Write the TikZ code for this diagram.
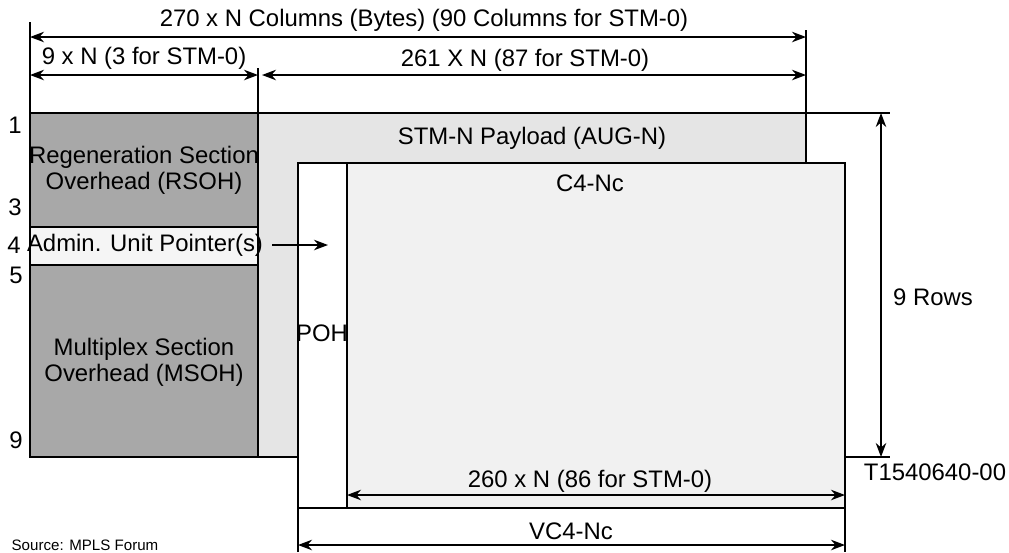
\documentclass[tikz,border=0pt]{standalone}
\usepackage{fontspec}
\setmainfont{Liberation Sans}
\usetikzlibrary{arrows.meta}

\definecolor{ohgray}{gray}{0.66}
\definecolor{paygray}{gray}{0.9}
\definecolor{c4gray}{gray}{0.945}
\definecolor{ptrgray}{gray}{0.96}

\tikzset{
  dim/.style={{Stealth[length=8pt,width=6pt]}-{Stealth[length=8pt,width=6pt]}},
  lbl/.style={font=\fontsize{13.6}{15}\selectfont, inner sep=0pt, align=center},
}

\begin{document}
\begin{tikzpicture}[x=0.02cm,y=-0.02cm,line width=0.8pt]
\useasboundingbox (0,0) rectangle (1009,552);

% STM-N payload
\fill[paygray] (258,113) rectangle (806,457);

% section overheads
\filldraw[fill=ohgray] (30,113) rectangle (258,227);  % RSOH
\filldraw[fill=ptrgray] (30,227) rectangle (258,265); % pointer
\filldraw[fill=ohgray] (30,265) rectangle (258,457);  % MSOH

% frame lines
\draw (30,22) -- (30,457) -- (298,457);
\draw (258,68) -- (258,457);
\draw (30,113) -- (890,113);
\draw (806,30) -- (806,163);
\draw (845,457) -- (890,457);

% VC4-Nc
\fill[white] (298,163) rectangle (845,552);
\fill[c4gray] (347,163) rectangle (845,508);
\draw (298,552) -- (298,163) -- (845,163) -- (845,552);
\draw (347,163) -- (347,508);
\draw (298,508) -- (845,508);

% dimension ends
\coordinate (colL) at (30,37);
\coordinate (colR) at (806,37);
\coordinate (sohL) at (30,75);
\coordinate (sohR) at (258,75);
\coordinate (payL) at (262,75);
\coordinate (payR) at (806,75);
\coordinate (rowT) at (881,113);
\coordinate (rowB) at (881,457);
\coordinate (c4L) at (347,495);
\coordinate (c4R) at (845,495);
\coordinate (vcL) at (298,545);
\coordinate (vcR) at (845,545);
\coordinate (ptrA) at (272,245);
\coordinate (ptrB) at (328,245);

\draw[dim] (colL) -- (colR);
\draw[dim] (sohL) -- (sohR);
\draw[dim] (payL) -- (payR);
\draw[dim] (rowT) -- (rowB);
\draw[dim] (c4L) -- (c4R);
\draw[dim] (vcL) -- (vcR);
\draw[-{Stealth[length=8pt,width=6pt]}] (ptrA) -- (ptrB);

% labels
\node[lbl] (cols) at (424,20) {270 x N Columns (Bytes) (90 Columns for STM-0)};
\node[lbl] (soh) at (144,58) {9 x N (3 for STM-0)};
\node[lbl] (pay) at (525,60) {261 X N (87 for STM-0)};
\node[lbl] (aug) at (532,138) {STM-N Payload (AUG-N)};
\node[lbl] (c4) at (590,183) {C4-Nc};
\node[lbl] (rsoh) at (144,170) {Regeneration Section\\Overhead (RSOH)};
\node[lbl] (ptr) at (145,245) {Admin. Unit Pointer(s)};
\node[lbl] (msoh) at (144,362) {Multiplex Section\\Overhead (MSOH)};
\node[lbl] (poh) at (322,333) {POH};
\node[lbl] (rows) at (933,297) {9 Rows};
\node[lbl] (ref) at (935,472) {T1540640-00};
\node[lbl] (c4w) at (590,481) {260 x N (86 for STM-0)};
\node[lbl] (vc) at (571,531) {VC4-Nc};
\node[font=\fontsize{8.6}{10}\selectfont, inner sep=0pt] (src) at (85,545) {Source: MPLS Forum};

% row numbers
\node[lbl] (r1) at (15,125) {1};
\node[lbl] (r3) at (15,207) {3};
\node[lbl] (r4) at (14,245) {4};
\node[lbl] (r5) at (16,275) {5};
\node[lbl] (r9) at (16,440) {9};

\end{tikzpicture}
\end{document}
